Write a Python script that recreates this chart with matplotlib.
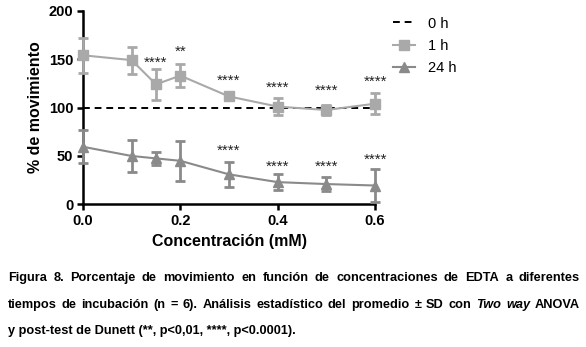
import numpy as np
import matplotlib
matplotlib.use('Agg')
import matplotlib.pyplot as plt
from matplotlib.lines import Line2D

plt.rcParams['font.family'] = ['Liberation Sans', 'DejaVu Sans']

# datos
conc = [0.0, 0.1, 0.15, 0.2, 0.3, 0.4, 0.5, 0.6]
mov_1h = [154, 149, 124, 133, 111.5, 101, 97.5, 104]
sd_1h = [18, 14, 16, 12, 3, 9, 5, 11]
mov_24h = [59.5, 50, 47.5, 45, 31, 23, 21, 19.5]
sd_24h = [17, 16.5, 7, 20.5, 13, 8, 7, 17]

# asteriscos de significancia (x, y, texto)
sig_1h_x = [0.15, 0.2, 0.3, 0.4, 0.5, 0.6]
sig_1h_y = [150, 162, 132, 124, 121, 131]
sig_1h_txt = ['****', '**', '****', '****', '****', '****']
sig_24h_x = [0.3, 0.4, 0.5, 0.6]
sig_24h_y = [59, 43, 43, 50]
sig_24h_txt = ['****', '****', '****', '****']

col_1h = '#a9a9a9'
col_24h = '#8a8a8a'

fig = plt.figure(figsize=(5.86, 3.47), dpi=100)
ax = fig.add_axes([0.1416, 0.411, 0.4984, 0.558])

ax.axhline(100, color='black', ls=(0, (3.5, 2.5)), lw=1.4, zorder=1)
ax.errorbar(conc, mov_1h, yerr=sd_1h, color=col_1h, marker='s', ms=7, lw=1.5,
            elinewidth=2, capsize=3.5, capthick=2, clip_on=False, zorder=3)
ax.errorbar(conc, mov_24h, yerr=sd_24h, color=col_24h, marker='^', ms=7, lw=1.5,
            elinewidth=2, capsize=3.5, capthick=2, clip_on=False, zorder=3)

for x, y, t in zip(sig_1h_x, sig_1h_y, sig_1h_txt):
    ax.text(x, y - 4, t, ha='center', va='center', fontsize=11, color='#222222')
for x, y, t in zip(sig_24h_x, sig_24h_y, sig_24h_txt):
    ax.text(x, y - 4, t, ha='center', va='center', fontsize=11, color='#222222')

ax.set_xlim(0, 0.6)
ax.set_ylim(0, 200)
ax.set_xticks([0.0, 0.2, 0.4, 0.6])
ax.set_xticklabels(['0.0', '0.2', '0.4', '0.6'])
ax.set_yticks([0, 50, 100, 150, 200])
for lab in ax.get_xticklabels() + ax.get_yticklabels():
    lab.set_fontweight('bold')
    lab.set_fontsize(10.5)
ax.tick_params(width=1.8, length=4, pad=3)
ax.spines['top'].set_visible(False)
ax.spines['right'].set_visible(False)
ax.spines['left'].set_linewidth(1.8)
ax.spines['bottom'].set_linewidth(1.8)
ax.set_xlabel('Concentración (mM)', fontsize=11.5, fontweight='bold', labelpad=4)
ax.set_ylabel('% de movimiento', fontsize=11.5, fontweight='bold', labelpad=4)

handles = [Line2D([], [], color='black', ls=(0, (3.5, 2.5)), lw=1.4),
           Line2D([], [], color=col_1h, marker='s', ms=7, lw=1.5),
           Line2D([], [], color=col_24h, marker='^', ms=7, lw=1.5)]
fig.legend(handles, ['0 h', '1 h', '24 h'], loc='upper left', bbox_to_anchor=(0.648, 0.99),
           frameon=False, fontsize=10.5, handlelength=1.5, labelspacing=0.55,
           handletextpad=0.9)

# pie de figura (justificado en las dos primeras lineas)
fs = 9.2
left, right = 8, 580
line1 = [(w, 'normal') for w in
         'Figura 8. Porcentaje de movimiento en función de concentraciones de EDTA a diferentes'.split()]
line2 = [(w, 'normal') for w in
         'tiempos de incubación (n = 6). Análisis estadístico del promedio ± SD con'.split()]
line2 += [('Two', 'italic'), ('way', 'italic'), ('ANOVA', 'normal')]

fig.canvas.draw()
r = fig.canvas.get_renderer()
W = fig.bbox.width
H = fig.bbox.height


def justified(words, ypix):
    objs = []
    widths = []
    for w, st in words:
        t = fig.text(0, 1 - ypix / H, w, fontsize=fs, fontweight='bold', style=st, va='center')
        objs.append(t)
        widths.append(t.get_window_extent(r).width)
    gap = (right - left - sum(widths)) / (len(words) - 1)
    x = left
    for t, wd in zip(objs, widths):
        t.set_x(x / W)
        x += wd + gap


justified(line1, 278)
justified(line2, 305)
fig.text(left / W, 1 - 331 / H, 'y post-test de Dunett (**, p<0,01, ****, p<0.0001).',
         fontsize=fs, fontweight='bold', va='center')

fig.savefig('out.png', dpi=100)
